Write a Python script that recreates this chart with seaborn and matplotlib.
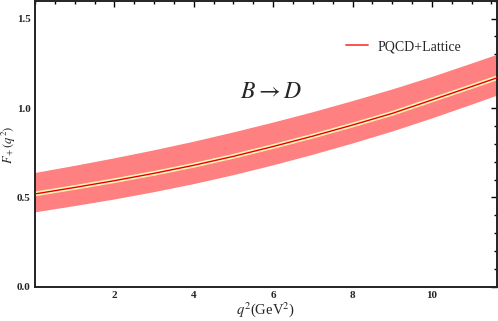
import numpy as np
import pandas as pd
import matplotlib
matplotlib.use("Agg")
import matplotlib.pyplot as plt
import seaborn as sns
from matplotlib.ticker import MultipleLocator

# data
q2 = [0, 1, 2, 3, 4, 5, 6, 7, 8, 9, 10, 11, 11.63]
f_center = [0.520, 0.556, 0.594, 0.635, 0.680, 0.730, 0.785, 0.843, 0.905, 0.970, 1.045, 1.120, 1.168]
f_upper = [0.640, 0.680, 0.722, 0.767, 0.815, 0.867, 0.922, 0.980, 1.042, 1.107, 1.177, 1.252, 1.300]
f_lower = [0.420, 0.455, 0.492, 0.533, 0.578, 0.628, 0.683, 0.742, 0.805, 0.872, 0.945, 1.022, 1.072]
xticks = [2, 4, 6, 8, 10]
yticks = [0.0, 0.5, 1.0, 1.5]

sns.set_theme(style="white")
plt.rcParams['font.family'] = ['Liberation Serif', 'DejaVu Serif']
plt.rcParams['mathtext.fontset'] = 'stix'

df = pd.DataFrame({"q2": q2, "F": f_center})

fig = plt.figure(figsize=(4.98, 3.21), dpi=100)
ax = fig.add_axes([0.0703, 0.106, 0.927, 0.892])

ax.fill_between(q2, f_lower, f_upper, color="#ff8080", linewidth=0, zorder=1)
sns.lineplot(data=df, x="q2", y="F", ax=ax, color="#fff4b8", linewidth=3.4, zorder=2, legend=False)
sns.lineplot(data=df, x="q2", y="F", ax=ax, color="#e80000", linewidth=1.0, zorder=3,
             label="PQCD+Lattice")

ax.set_xlim(0, 11.63)
ax.set_ylim(0, 1.6)
ax.set_xticks(xticks)
ax.set_yticks(yticks)
ax.set_xticklabels([str(t) for t in xticks], fontweight="bold", fontsize=8)
ax.set_yticklabels([f"{t:.1f}" for t in yticks], fontweight="bold", fontsize=8)
ax.xaxis.set_minor_locator(MultipleLocator(0.5))
ax.yaxis.set_minor_locator(MultipleLocator(0.1))
ax.tick_params(which="both", direction="in", top=True, right=True, color="black", width=1.0)
ax.tick_params(which="major", length=4, pad=3)
ax.tick_params(which="minor", length=2.2)

for s in ax.spines.values():
    s.set_color("#222222")
    s.set_linewidth(1.4)

ax.set_xlabel(r"$q^2$(GeV$^2$)", fontsize=10.5)
ax.set_ylabel(r"$F_+(q^2)$", fontsize=9)
ax.xaxis.set_label_coords(0.5, -0.045)
ax.yaxis.set_label_coords(-0.036, 0.497)

ax.text(5.95, 1.084, r"$B \rightarrow D$", fontsize=17, ha="center", va="center")

leg = ax.legend(loc="upper right", bbox_to_anchor=(0.951, 0.905), frameon=False, fontsize=10,
                handlelength=1.6, handletextpad=0.7)
for line in leg.get_lines():
    line.set_color("#ff5050")
    line.set_linewidth(1.4)

fig.savefig("out.png", dpi=100)
